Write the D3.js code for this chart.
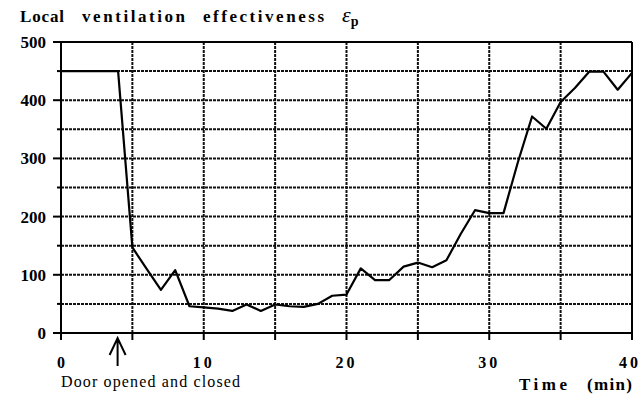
<!DOCTYPE html>
<html>
<head>
<meta charset="utf-8">
<script src="https://cdn.jsdelivr.net/npm/d3@7"></script>
<style>
  body { margin: 0; background: #fff; }
  svg { display: block; }
</style>
</head>
<body>
<svg id="chart"></svg>
<script>
// Data
const times = [0, 1, 2, 3, 4, 5, 6, 7, 8, 9, 10, 11, 12, 13, 14, 15, 16, 17, 18, 19, 20,
  21, 22, 23, 24, 25, 26, 27, 28, 29, 30, 31, 32, 33, 34, 35, 36, 37, 38, 39, 40];
const values = [450, 450, 450, 450, 450, 147, 110, 74, 108, 46, 44, 42, 38, 49, 38, 49, 46, 45, 50, 64, 66,
  111, 91, 91, 114, 121, 113, 125, 170, 211, 206, 206, 293, 372, 351, 397, 421, 449, 449, 418, 447];
const xTickLabels = [0, 10, 20, 30, 40];
const yTickLabels = [0, 100, 200, 300, 400, 500];
const doorTime = 4;

const points = times.map((t, i) => ({ t: t, v: values[i] }));

// Chart size
const W = 641, H = 396;
const x = d3.scaleLinear().domain([0, 40]).range([61, 632]);
const y = d3.scaleLinear().domain([0, 500]).range([333, 42]);

const svg = d3.select('#chart')
  .attr('width', W)
  .attr('height', H);

const FONT = '"Liberation Serif"';

// Grid lines (every 5 min, every 50 units)
const grid = svg.append('g').attr('stroke', '#111').attr('stroke-width', 2)
  .attr('stroke-dasharray', '3,1');
grid.selectAll('.vg')
  .data(d3.range(5, 40, 5))
  .enter().append('line')
  .attr('x1', d => x(d)).attr('x2', d => x(d))
  .attr('y1', y(500)).attr('y2', y(0));
grid.selectAll('.hg')
  .data(d3.range(50, 500, 50))
  .enter().append('line')
  .attr('x1', x(0)).attr('x2', x(40))
  .attr('y1', d => y(d)).attr('y2', d => y(d));

// Frame: axis lines, top and right border
const frame = svg.append('g').attr('stroke', '#000').attr('stroke-width', 2).attr('fill', 'none');
frame.append('line').attr('x1', x(0)).attr('x2', x(40)).attr('y1', y(0)).attr('y2', y(0));
frame.append('line').attr('x1', x(0)).attr('x2', x(40)).attr('y1', y(500)).attr('y2', y(500));
frame.append('line').attr('x1', x(0)).attr('x2', x(0)).attr('y1', y(0)).attr('y2', y(500));
frame.append('line').attr('x1', x(40)).attr('x2', x(40)).attr('y1', y(0)).attr('y2', y(500));

// Tick marks
frame.selectAll('.yt')
  .data(d3.range(0, 550, 50))
  .enter().append('line')
  .attr('x1', d => x(0) - (d % 100 === 0 ? 8 : 4)).attr('x2', x(0))
  .attr('y1', d => y(d)).attr('y2', d => y(d));
frame.selectAll('.xt')
  .data(d3.range(0, 45, 5))
  .enter().append('line')
  .attr('x1', d => x(d)).attr('x2', d => x(d))
  .attr('y1', y(0)).attr('y2', y(0) + 7);

// Tick labels
svg.selectAll('.ylab')
  .data(yTickLabels)
  .enter().append('text')
  .attr('x', 46)
  .attr('y', d => y(d) + 6)
  .attr('text-anchor', 'end')
  .attr('font-weight', 'bold')
  .attr('font-size', 17)
  .style('font-family', FONT)
  .text(d => d);

svg.selectAll('.xlab')
  .data(xTickLabels)
  .enter().append('text')
  .attr('x', d => d === 40 ? 641 : x(d))
  .attr('y', 368)
  .attr('text-anchor', d => d === 40 ? 'end' : 'middle')
  .attr('font-weight', 'bold')
  .attr('font-size', 16)
  .attr('letter-spacing', d => d > 0 ? 3 : 0)
  .style('font-family', FONT)
  .text(d => d);

// Data line
const line = d3.line().x(d => x(d.t)).y(d => y(d.v));
svg.append('path')
  .datum(points)
  .attr('fill', 'none')
  .attr('stroke', '#000')
  .attr('stroke-width', 2.2)
  .attr('stroke-linejoin', 'round')
  .attr('d', line);

// Door arrow
const ax = x(doorTime) - 0.5;
svg.append('path')
  .attr('d', `M${ax},366 L${ax},338 M${ax - 8},355 L${ax},338 L${ax + 8},355`)
  .attr('fill', 'none')
  .attr('stroke', '#000')
  .attr('stroke-width', 2);

svg.append('text')
  .attr('x', 61)
  .attr('y', 387)
  .attr('font-size', 16)
  .attr('textLength', 179)
  .style('font-family', FONT)
  .text('Door opened and closed');

// Axis title
const xTitle = svg.append('text')
  .attr('y', 390)
  .attr('font-weight', 'bold')
  .attr('font-size', 17)
  .style('font-family', FONT);
xTitle.append('tspan').attr('x', 519).attr('textLength', 48).text('Time');
xTitle.append('tspan').attr('x', 587).attr('textLength', 45).text('(min)');

// Chart title
const title = svg.append('text')
  .attr('y', 22)
  .attr('font-weight', 'bold')
  .attr('font-size', 17)
  .style('font-family', FONT);
title.append('tspan').attr('x', 20).attr('textLength', 44).text('Local');
title.append('tspan').attr('x', 82).attr('textLength', 103).text('ventilation');
title.append('tspan').attr('x', 203).attr('textLength', 121).text('effectiveness');
title.append('tspan')
  .attr('x', 342)
  .attr('font-style', 'italic')
  .attr('font-weight', 'normal')
  .attr('font-size', 22)
  .text('ε');
title.append('tspan')
  .attr('dy', 4)
  .attr('font-size', 14)
  .text('p');
</script>
</body>
</html>
